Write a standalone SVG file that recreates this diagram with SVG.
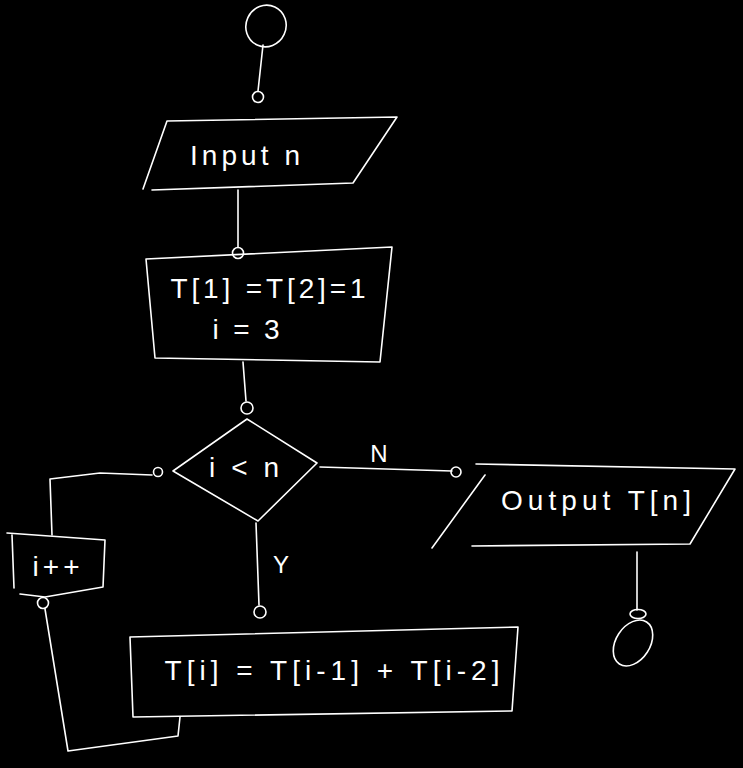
<svg xmlns="http://www.w3.org/2000/svg" width="743" height="768" viewBox="0 0 743 768">
<style>
.s{fill:none;stroke:#fff;stroke-width:1.6;stroke-linejoin:round;stroke-linecap:round}
.t{fill:#fff;font-family:"Liberation Sans","DejaVu Sans",sans-serif;font-size:28px;text-anchor:middle}
.l{fill:#fff;font-family:"Liberation Sans","DejaVu Sans",sans-serif;font-size:24px;text-anchor:middle}
</style>
<rect width="743" height="768" fill="#000"/>
<g id="connectors">
<path class="s" d="M263,45 L258,91"/>
<circle class="s" cx="258" cy="97" r="5.5"/>
<path class="s" d="M238,190 L238,247"/>
<circle class="s" cx="238" cy="253" r="5.5"/>
<path class="s" d="M243,362 L246,401"/>
<circle class="s" cx="247" cy="408" r="6"/>
<path class="s" d="M320,467 L452,471"/>
<circle class="s" cx="456" cy="472" r="5"/>
<text class="l" x="379" y="462">N</text>
<path class="s" d="M256,523 L259,605"/>
<circle class="s" cx="260" cy="612" r="6"/>
<text class="l" x="281" y="573">Y</text>
<path class="s" d="M637,552 L637,610"/>
<ellipse class="s" cx="638" cy="614" rx="8" ry="4.5"/>
<path class="s" d="M180,717 L178,736 L68,751 L45,609"/>
<circle class="s" cx="43" cy="603" r="5.5"/>
<path class="s" d="M52,535 L50,479 L100,473 L152,475"/>
<circle class="s" cx="158" cy="472" r="4.5"/>
</g>
<g id="start">
<ellipse class="s" cx="266" cy="26" rx="20" ry="21" transform="rotate(25 266 26)"/>
</g>
<g id="input">
<path class="s" d="M167,121 L397,117 L353,183 L152,190 M167,121 L143,189"/>
<text class="t" x="245" y="165" textLength="110" lengthAdjust="spacing">Input n</text>
</g>
<g id="init">
<path class="s" d="M146,259 L392,247 L380,362 L155,358 Z"/>
<text class="t" x="268" y="298" textLength="195" lengthAdjust="spacing">T[1] =T[2]=1</text>
<text class="t" x="246" y="339" textLength="67" lengthAdjust="spacing">i = 3</text>
</g>
<g id="decision">
<path class="s" d="M247,419 L317,463 L258,521 L173,471 Z"/>
<text class="t" x="244" y="477" textLength="70" lengthAdjust="spacing">i &lt; n</text>
</g>
<g id="output">
<path class="s" d="M476,464 L735,469 L690,544 L472,546 M485,475 L432,548"/>
<text class="t" x="596" y="510" textLength="190" lengthAdjust="spacing">Output T[n]</text>
</g>
<g id="end">
<ellipse class="s" cx="633" cy="643" rx="17" ry="25" transform="rotate(33 633 643)"/>
</g>
<g id="incr">
<path class="s" d="M7,533 L105,540 L103,587 L45,597 L20,594 M12,535 L14,588"/>
<text class="t" x="56" y="576" textLength="47" lengthAdjust="spacing">i++</text>
</g>
<g id="compute">
<path class="s" d="M130,637 L518,627 L512,711 L133,717 Z"/>
<text class="t" x="332" y="680" textLength="335" lengthAdjust="spacing">T[i] = T[i-1] + T[i-2]</text>
</g>
</svg>
